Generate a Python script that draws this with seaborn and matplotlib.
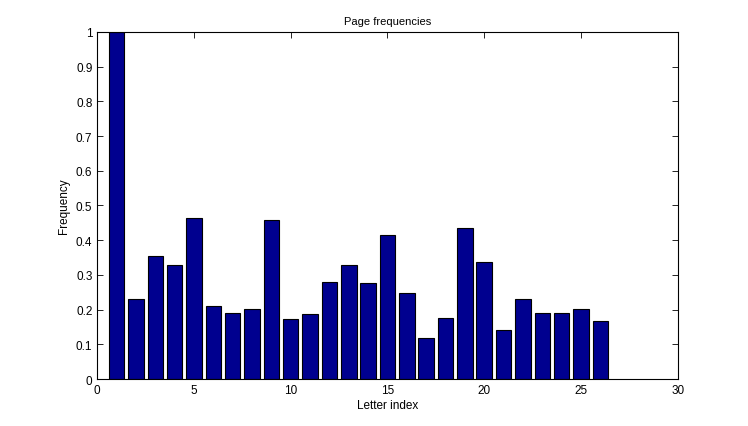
import seaborn as sns
import matplotlib.pyplot as plt
from matplotlib.ticker import FuncFormatter

letter_index = list(range(1, 27))
frequency = [1.0, 0.230, 0.355, 0.329, 0.463, 0.211, 0.189, 0.201, 0.457, 0.173,
             0.186, 0.279, 0.329, 0.277, 0.415, 0.248, 0.119, 0.175, 0.434, 0.338,
             0.141, 0.230, 0.191, 0.191, 0.203, 0.166]

sns.set_style('ticks', {'axes.edgecolor': 'black', 'text.color': 'black',
                        'axes.labelcolor': 'black', 'xtick.color': 'black',
                        'ytick.color': 'black'})
plt.rcParams['font.family'] = ['Liberation Sans', 'DejaVu Sans']
plt.rcParams['font.size'] = 8

fig = plt.figure(figsize=(7.48, 4.27), dpi=100)
ax = fig.add_axes([0.130, 0.110, 0.776, 0.813])
sns.barplot(x=letter_index, y=frequency, native_scale=True, width=0.8,
            color=(0, 0, 0.56), saturation=1, edgecolor='black', linewidth=0.8, ax=ax)

ax.set_xlim(0, 30)
ax.set_ylim(0, 1)
ax.set_xticks(range(0, 31, 5))
ax.set_yticks([i / 10 for i in range(11)])
ax.yaxis.set_major_formatter(FuncFormatter(lambda v, p: f'{v:g}'))
ax.tick_params(direction='in', top=True, right=True, length=4, width=0.6,
               labelsize=8.5, colors='black')
for s in ax.spines.values():
    s.set_visible(True)
    s.set_linewidth(0.8)
    s.set_color('black')
ax.set_title('Page frequencies', fontsize=8, color='black')
ax.set_xlabel('Letter index', fontsize=8.5, labelpad=2, color='black')
ax.set_ylabel('Frequency', fontsize=8.5, color='black')

fig.savefig('out.png', dpi=100)
